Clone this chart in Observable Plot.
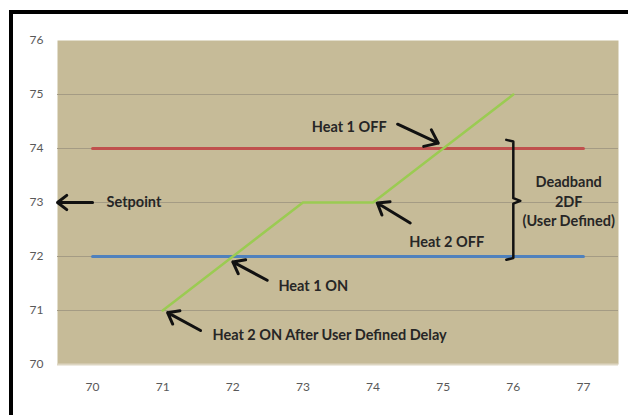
<!DOCTYPE html>
<html>
<head>
<meta charset="utf-8">
<script src="https://cdn.jsdelivr.net/npm/d3@7"></script>
<script src="https://cdn.jsdelivr.net/npm/@observablehq/plot@0.6"></script>
<style>
  html, body { margin: 0; padding: 0; background: #fff; }
  #wrap { position: relative; width: 628px; height: 415px; overflow: hidden; }
  #frame { position: absolute; left: 9px; top: 10px; width: 640px; height: 420px;
           border-top: 4px solid #000; border-left: 4px solid #000; box-sizing: border-box; pointer-events: none; }
  #chart { position: absolute; left: 0; top: 0; }
</style>
</head>
<body>
<div id="wrap"><div id="chart"></div><div id="frame"></div></div>
<script>
// Data
const xTicks = [70, 71, 72, 73, 74, 75, 76, 77];
const yTicks = [70, 71, 72, 73, 74, 75, 76];
const gridY = [71, 72, 73, 74, 75];
const redX = [70, 71, 72, 73, 74, 75, 76, 77];
const redY = [74, 74, 74, 74, 74, 74, 74, 74];
const blueX = [70, 71, 72, 73, 74, 75, 76, 77];
const blueY = [72, 72, 72, 72, 72, 72, 72, 72];
const greenX = [71, 72, 73, 74, 75, 76];
const greenY = [71, 72, 73, 73, 74, 75];

// Annotations (data coordinates)
const arrowX1 = [70.0, 72.49, 71.54, 74.35, 74.53];
const arrowY1 = [73.0, 71.56, 70.63, 74.45, 72.62];
const arrowX2 = [69.5, 72.0, 71.07, 74.93, 74.06];
const arrowY2 = [73.0, 71.9, 70.96, 74.1, 72.99];
const labelText = ["Setpoint", "Heat 1 ON", "Heat 2 ON After User Defined Delay", "Heat 1 OFF", "Heat 2 OFF", "Deadband", "2DF", "(User Defined)"];
const labelX = [70.2, 72.65, 71.71, 73.66, 75.05, 76.79, 76.79, 76.79];
const labelY = [73.0, 71.45, 70.54, 74.4, 72.27, 73.38, 73.0, 72.65];
const labelAnchor = ["start", "start", "start", "middle", "middle", "middle", "middle", "middle"];
const braceX = [75.9, 76.0, 76.0, 76.1, 76.0, 76.0, 75.9];
const braceY = [74.16, 74.13, 73.08, 73.03, 72.98, 71.97, 71.94];

const tbl = (xs, ys) => xs.map((x, i) => ({x, y: ys[i]}));
const arrows = arrowX1.map((_, i) => ({x1: arrowX1[i], y1: arrowY1[i], x2: arrowX2[i], y2: arrowY2[i]}));
const labels = labelText.map((t, i) => ({t, x: labelX[i], y: labelY[i], a: labelAnchor[i]}));
const fmt = d => String(d);
const textOpts = {x: "x", y: "y", text: "t", fill: "#262626", fontSize: 14.5, fontWeight: "bold"};

const chart = Plot.plot({
  width: 628,
  height: 415,
  marginLeft: 57,
  marginRight: 10,
  marginTop: 40,
  marginBottom: 51,
  style: {background: "transparent", fontFamily: "Lato, 'Open Sans', sans-serif"},
  x: {domain: [69.5, 77.5]},
  y: {domain: [70, 76]},
  marks: [
    Plot.frame({fill: "#c6bb98", stroke: null}),
    Plot.ruleY(gridY, {stroke: "#a49b84", strokeWidth: 1}),
    Plot.ruleY([70], {stroke: "#ddd6c2", strokeWidth: 2}),
    Plot.line(tbl(redX, redY), {x: "x", y: "y", stroke: "#c0504d", strokeWidth: 3}),
    Plot.line(tbl(blueX, blueY), {x: "x", y: "y", stroke: "#4f81bd", strokeWidth: 3}),
    Plot.line(tbl(greenX, greenY), {x: "x", y: "y", stroke: "#9bcb52", strokeWidth: 2.5}),
    Plot.arrow(arrows, {x1: "x1", y1: "y1", x2: "x2", y2: "y2", stroke: "#111", strokeWidth: 3, headLength: 11, headAngle: 75}),
    Plot.line(tbl(braceX, braceY), {x: "x", y: "y", stroke: "#111", strokeWidth: 2.5}),
    Plot.text(labels, {...textOpts, filter: d => d.a === "start", textAnchor: "start"}),
    Plot.text(labels, {...textOpts, filter: d => d.a === "middle", textAnchor: "middle"}),
    Plot.axisX({ticks: xTicks, tickSize: 0, tickPadding: 18, tickFormat: fmt, fontSize: 12, color: "#595959"}),
    Plot.axisY({ticks: yTicks, tickSize: 0, tickPadding: 14, tickFormat: fmt, fontSize: 12, color: "#595959"})
  ]
});
document.getElementById("chart").appendChild(chart);
</script>
</body>
</html>
